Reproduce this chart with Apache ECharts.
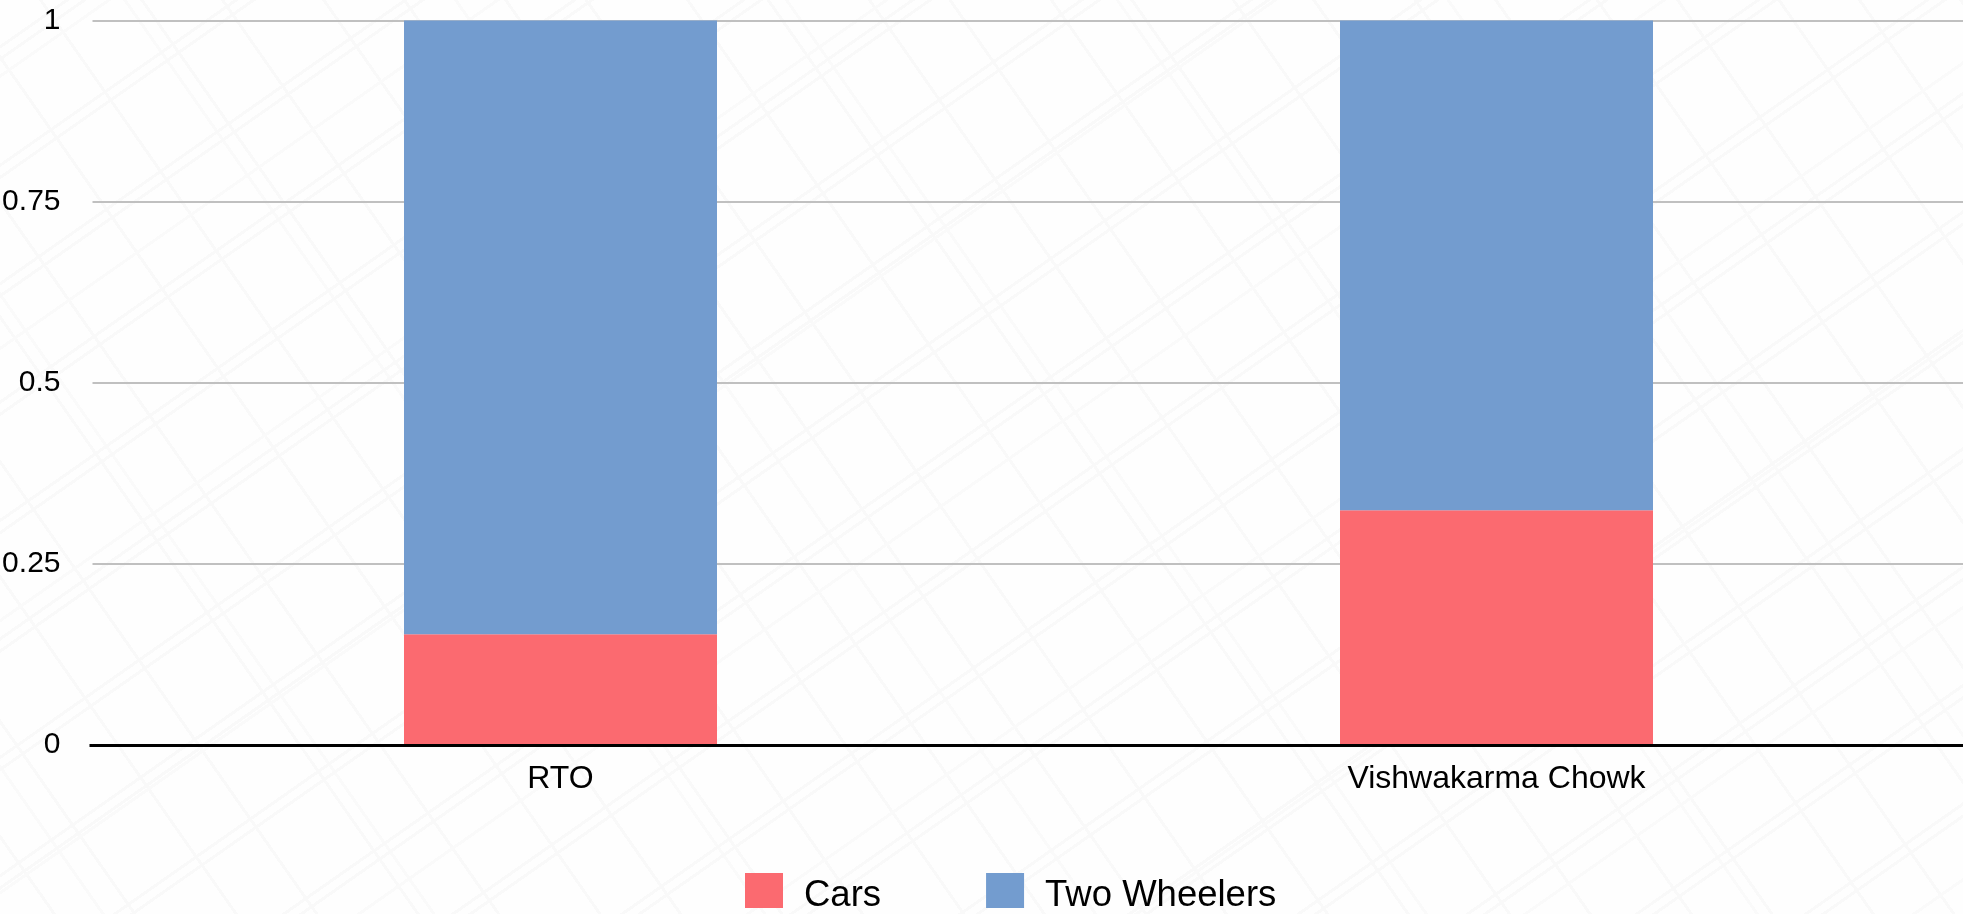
<!DOCTYPE html>
<html>
<head>
<meta charset="utf-8">
<style>
html,body{margin:0;padding:0;width:100%;height:100%;overflow:hidden;background-color:#fefefe;}
body{background-image:
 repeating-linear-gradient(145deg,transparent 0 37px,#f9f9f9 37px 40px,transparent 40px 47px,#f9f9f9 47px 50px,transparent 50px 97px),
 repeating-linear-gradient(145deg,transparent 0 61px,#fafafa 61px 64px,transparent 64px 223px),
 repeating-linear-gradient(55deg,transparent 0 43px,#f9f9f9 43px 46px,transparent 46px 109px,#f9f9f9 109px 112px,transparent 112px 149px),
 repeating-linear-gradient(55deg,transparent 0 83px,#fafafa 83px 86px,transparent 86px 271px);}
#c{position:absolute;left:0;top:0;width:1963px;height:914px;}
</style>
<script src="https://cdn.jsdelivr.net/npm/echarts@6/dist/echarts.min.js"></script>
</head>
<body>
<div id="c"></div>
<script>
const categories = ['RTO', 'Vishwakarma Chowk'];
const cars = [0.153, 0.324];
const twoWheelers = [0.847, 0.676];

const font = '"Liberation Sans", Arial, Helvetica, sans-serif';
const chart = echarts.init(document.getElementById('c'), null, {renderer: 'canvas', width: 1963, height: 914});
chart.setOption({
  backgroundColor: 'transparent',
  animation: false,
  grid: {left: 92.5, top: 20.5, width: 1872, height: 724.5, containLabel: false, outerBoundsMode: 'none'},
  legend: {
    left: 745, top: 873, padding: 0, icon: 'rect', itemWidth: 38, itemHeight: 35, itemGap: 105,
    formatter: '{t|{name}}',
    textStyle: {
      fontFamily: font, fontSize: 36.5, color: '#000',
      rich: {t: {fontFamily: font, fontSize: 36.5, color: '#000', padding: [10, 0, 0, 16]}}
    },
    data: ['Cars', 'Two Wheelers']
  },
  xAxis: {
    type: 'category', data: categories, z: 5,
    axisLine: {onZero: false, lineStyle: {color: '#000', width: 3}},
    axisTick: {show: false},
    axisLabel: {fontFamily: font, fontSize: 32, color: '#000', margin: 18}
  },
  yAxis: [
    {
      type: 'value', min: 0, max: 1, interval: 0.25,
      axisLine: {show: false},
      axisTick: {show: false},
      axisLabel: {fontFamily: font, fontSize: 30, color: '#000', margin: 32, padding: [6, 0, 0, 0]},
      splitLine: {lineStyle: {color: '#c0c0c0', width: 2}}
    },
    {
      type: 'value', min: 0, max: 1, interval: 1, position: 'left', z: 5,
      axisLine: {show: false},
      axisLabel: {show: false},
      axisTick: {show: true, customValues: [0], length: 3, lineStyle: {color: '#000', width: 3}},
      splitLine: {show: false}
    }
  ],
  series: [
    {name: 'Cars', type: 'bar', stack: 'total', barWidth: 313, data: cars, itemStyle: {color: '#fb6a70'}},
    {name: 'Two Wheelers', type: 'bar', stack: 'total', barWidth: 313, data: twoWheelers, itemStyle: {color: '#739ccf'}}
  ]
});
</script>
</body>
</html>
